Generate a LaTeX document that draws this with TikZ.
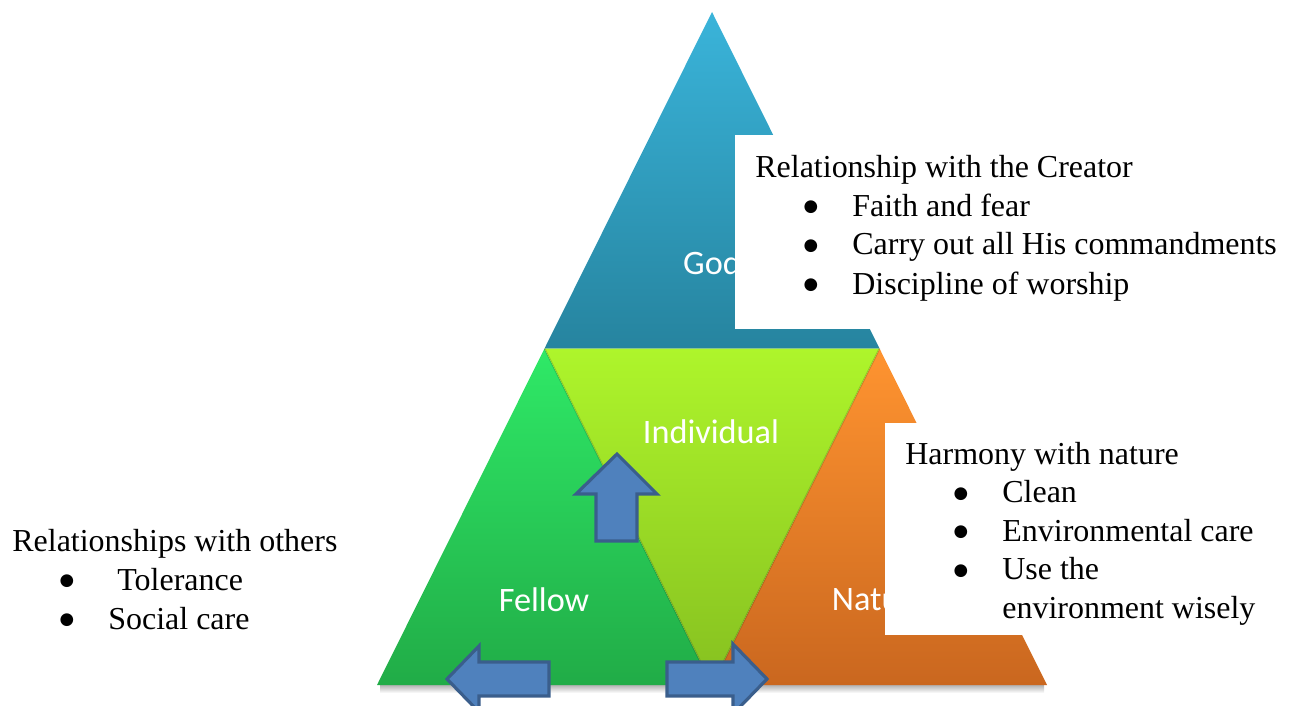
\documentclass[tikz,border=0pt]{standalone}
\usepackage{fontspec}
\setmainfont{Liberation Serif}
\newfontfamily\calibri{Carlito}
\newfontfamily\dejavu{DejaVu Sans}
% colours of the four parts
\definecolor{godtop}{HTML}{3AB4DA}
\definecolor{godbot}{HTML}{26849F}
\definecolor{indtop}{HTML}{AEF52B}
\definecolor{indbot}{HTML}{86C020}
\definecolor{feltop}{HTML}{2FE967}
\definecolor{felbot}{HTML}{21AC47}
\definecolor{nattop}{HTML}{FF9430}
\definecolor{natbot}{HTML}{CA671F}
\definecolor{arrowfill}{HTML}{4F81BD}
\definecolor{arrowline}{HTML}{3A5E8C}
\tikzset{
	part/.style={text=white, font=\calibri\fontsize{19.5}{22}\selectfont, inner sep=0pt},
	txt/.style={anchor=base west, inner sep=0pt, font=\fontsize{18.2}{22}\selectfont},
	dot/.style={anchor=base, inner sep=0pt, yshift=0.09cm, font=\dejavu\fontsize{9.5}{10}\selectfont},
	blockarrow/.style={fill=arrowfill, draw=arrowline, line width=1.8pt, line join=miter},
}
\begin{document}
\begin{tikzpicture}[x=0.02cm, y=-0.02cm, line join=round]
	\useasboundingbox (0,0) rectangle (1292,706);
	% corners of the big triangle and its midpoints
	\coordinate (A) at (712,12);
	\coordinate (L) at (377,685);
	\coordinate (R) at (1047,685);
	\coordinate (ML) at (544.5,348.5);
	\coordinate (MR) at (879.5,348.5);
	\coordinate (MB) at (712,685);
	% soft shadow under the base
	\shade[top color=black!30, bottom color=white] (380,685) rectangle (1044,693);
	\shade[top color=godtop, bottom color=godbot] (A)--(MR)--(ML)--cycle;
	\shade[top color=feltop, bottom color=felbot] (ML)--(MB)--(L)--cycle;
	\shade[top color=nattop, bottom color=natbot] (MR)--(R)--(MB)--cycle;
	\shade[top color=indtop, bottom color=indbot] (ML)--(MR)--(MB)--cycle;
	\draw[black, opacity=0.15, line width=1pt] (ML)--(MB)--(MR);
	\node[part] (god) at (712,263) {God};
	\node[part] (indiv) at (711,432) {Individual};
	\node[part] (fellow) at (544,600) {Fellow};
	\node[part] (nature) at (880,600) {Nature};
	% white boxes over the right side
	\fill[white] (735,135) rectangle (1292,329);
	\fill[white] (885,423) rectangle (1280,635);
	% Creator
	\node[txt] (creator) at (755,177) {Relationship with the Creator};
	\foreach \t [count=\i] in {Faith and fear, Carry out all His commandments, Discipline of worship}{
		\node[dot] (cb\i) at (811,{177+39*\i}) {●};
		\node[txt] (c\i) at (852,{177+39*\i}) {\t};
	}
	% nature
	\node[txt] (harmony) at (905,464) {Harmony with nature};
	\foreach \t [count=\i] in {Clean, Environmental care, Use the}{
		\node[dot] (hb\i) at (961,{464+38.5*\i}) {●};
		\node[txt] (h\i) at (1002,{464+38.5*\i}) {\t};
	}
	\node[txt] (h4) at (1002,618) {environment wisely};
	% others
	\node[txt] (others) at (12,551) {Relationships with others};
	\node[dot] (ob1) at (67,590) {●};
	\node[txt] (o1) at (117,590) {Tolerance};
	\node[dot] (ob2) at (67,629) {●};
	\node[txt] (o2) at (108,629) {Social care};
	% block arrows
	\draw[blockarrow] (617,454)--(657,494)--(637,494)--(637,541)--(596,541)--(596,494)--(576,494)--cycle;
	\draw[blockarrow] (447,679)--(479,646)--(479,662)--(549,662)--(549,696)--(479,696)--(479,712)--cycle;
	\draw[blockarrow] (767,679)--(733,644)--(733,662)--(667,662)--(667,696)--(733,696)--(733,714)--cycle;
\end{tikzpicture}
\end{document}
